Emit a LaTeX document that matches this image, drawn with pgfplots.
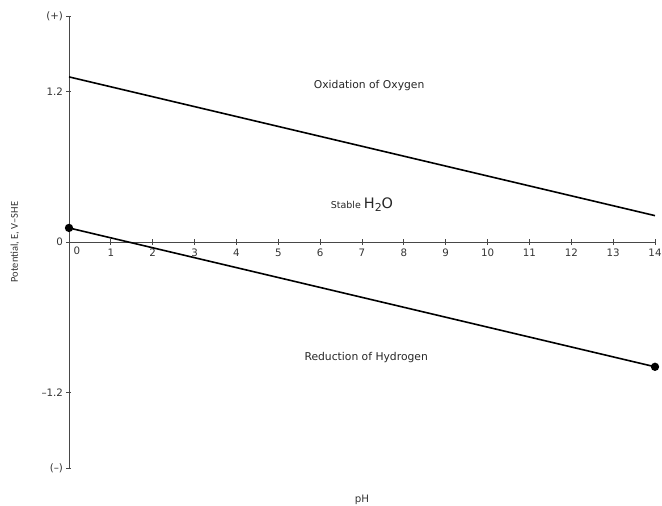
\documentclass[border=0pt]{standalone}
\usepackage{fontspec}
\setmainfont{DejaVu Sans}
\newfontfamily\labelfont{Carlito}
\usepackage{pgfplots}
\pgfplotsset{compat=1.18}

\begin{document}
\begin{tikzpicture}
\useasboundingbox (-69bp,-38bp) rectangle (593bp,468bp);
\begin{axis}[
  scale only axis,
  width=586bp, height=452bp,
  xmin=0, xmax=14, ymin=-1.8, ymax=1.8,
  axis lines=middle,
  axis line style={-, draw=black!72, line width=0.9bp},
  hide obscured x ticks=false,
  hide obscured y ticks=false,
  xtick={1,2,3,4,5,6,7,8,9,10,11,12,13,14},
  xticklabels={1,2,3,4,5,6,7,8,9,10,11,12,13,14},
  extra x ticks={0},
  extra x tick labels={0},
  extra x tick style={major tick length=0pt, tick label style={xshift=8bp}},
  ytick={-1.8,-1.2,0,1.2,1.8},
  yticklabels={(–),–1.2,0,1.2,(+)},
  tick align=center,
  major tick length=5bp,
  tick style={black!72, line width=0.8bp},
  tick label style={font=\fontsize{10.3}{12}\selectfont, text=black!80},
  xticklabel style={yshift=-1bp},
  xlabel={pH},
  ylabel={\labelfont Potential, E, V–SHE},
  every axis x label/.style={at={(rel axis cs:0.5,0)}, yshift=-32bp, anchor=center, font=\fontsize{10.3}{12}\selectfont, text=black!80},
  every axis y label/.style={at={(rel axis cs:0,0.5)}, xshift=-54bp, rotate=90, anchor=center, font=\fontsize{10.5}{12}\selectfont, text=black!80},
  clip=false,
]
% O2/H2O boundary
\addplot[black, line width=1.6bp] coordinates {(0,1.315) (14,0.21)};
% H+/H2 boundary, with end points marked
\addplot[black, line width=1.6bp, mark=*, mark size=3.3bp] coordinates {(0,0.112) (14,-0.994)};

\node[font=\fontsize{10.8}{12}\selectfont, text=black!85] at (axis cs:7.17,1.25) {Oxidation of Oxygen};
\node[font=\fontsize{9.5}{12}\selectfont, text=black!85, anchor=base] at (axis cs:7.0,0.27)
  {Stable {\fontsize{14.5}{15}\selectfont H\raisebox{-0.4ex}{\fontsize{11}{11}\selectfont 2}O}};
\node[font=\fontsize{10.8}{12}\selectfont, text=black!85] at (axis cs:7.1,-0.92) {Reduction of Hydrogen};
\end{axis}
\end{tikzpicture}
\end{document}
